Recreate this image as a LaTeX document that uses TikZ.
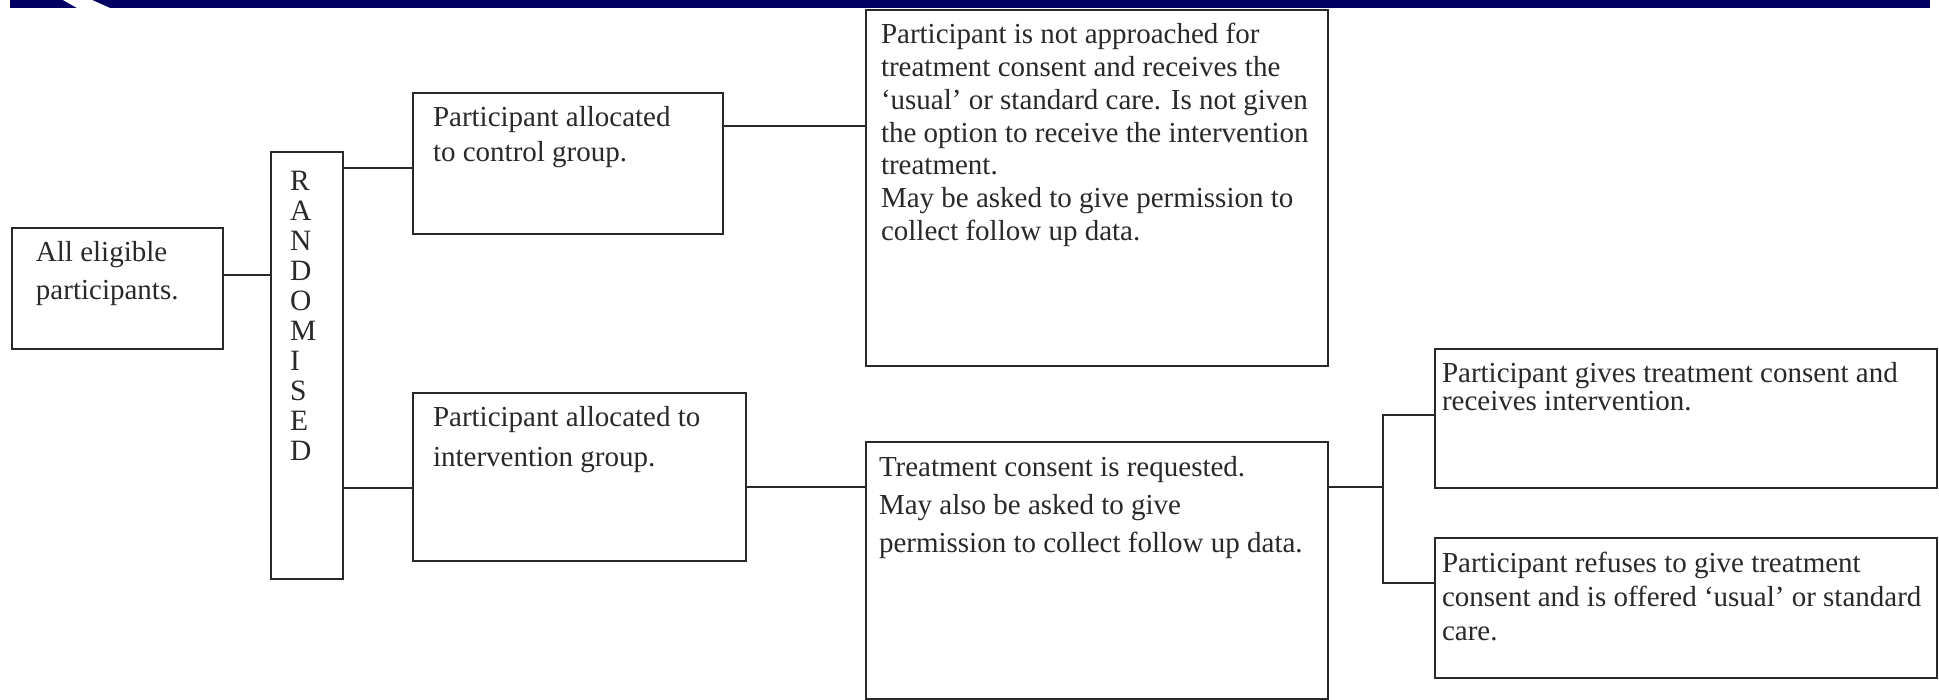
\documentclass[tikz,border=0pt]{standalone}
\usepackage{fontspec}
\setmainfont{Liberation Serif}
\definecolor{barblue}{RGB}{0,0,98}
\definecolor{ink}{gray}{0.16}

% Box body: left pad, text width, box height, line skip, lines of text.
\newcommand\boxbody[5]{%
  \hspace*{#1}\parbox[t][#3][t]{#2}{\fontsize{29pt}{#4}\selectfont
    \raggedright\rule{0pt}{34pt}#5}}

\tikzset{
  box/.style={draw=ink, line width=2pt, inner sep=0pt, anchor=north west,
              fill=white, text=ink},
  link/.style={draw=ink, line width=2pt}
}

\begin{document}
\begin{tikzpicture}[x=1pt, y=-1pt]
  \useasboundingbox[fill=white] (0,0) rectangle (1939,700);

  % heading bar
  \fill[barblue] (10,0) rectangle (1930,8);
  \fill[white] (63,0) -- (92,0) -- (110,8) -- (77,8) -- cycle;

  % boxes
  \node[box] (all) at (11,227)
    {\boxbody{24pt}{187pt}{121pt}{38pt}{All eligible\\participants.}};

  \node[box] (rand) at (270,151)
    {\hspace*{19pt}\parbox[t][427pt][t]{53pt}{\fontsize{29.5pt}{30pt}\selectfont
      \raggedright\rule{0pt}{39pt}R\\A\\N\\D\\O\\M\\I\\S\\E\\D}};

  \node[box] (ctrl) at (412,92)
    {\boxbody{20pt}{290pt}{141pt}{35pt}{Participant allocated\\to control group.}};

  \node[box] (intv) at (412,392)
    {\boxbody{20pt}{313pt}{168pt}{40pt}{Participant allocated to\\intervention group.}};

  \node[box] (notapp) at (865,9)
    {\boxbody{15pt}{447pt}{356pt}{32.7pt}{Participant is not approached for\\
      treatment consent and receives the\\
      ‘usual’ or standard care. Is not given\\
      the option to receive the intervention\\
      treatment.\\
      May be asked to give permission to\\
      collect follow up data.}};

  \node[box] (treat) at (865,441)
    {\boxbody{13pt}{449pt}{257pt}{38.5pt}{Treatment consent is requested.\\
      May also be asked to give\\
      permission to collect follow up data.}};

  \node[box] (gives) at (1434,348)
    {\boxbody{7pt}{495pt}{139pt}{28pt}{Participant gives treatment consent and\\
      receives intervention.}};

  \node[box] (refuse) at (1434,537)
    {\boxbody{7pt}{495pt}{140pt}{34pt}{Participant refuses to give treatment\\
      consent and is offered ‘usual’ or standard\\
      care.}};

  % connectors
  \draw[link] (all.east |- 0,275) -- (rand.west |- 0,275);
  \draw[link] (rand.east |- 0,168) -- (ctrl.west |- 0,168);
  \draw[link] (rand.east |- 0,488) -- (intv.west |- 0,488);
  \draw[link] (ctrl.east |- 0,126) -- (notapp.west |- 0,126);
  \draw[link] (intv.east |- 0,487) -- (treat.west |- 0,487);

  \coordinate (split) at (1383,487);
  \draw[link] (treat.east |- split) -- (split);
  \draw[link] (gives.west |- 0,415) -| (split) |- (refuse.west |- 0,583);
\end{tikzpicture}
\end{document}
